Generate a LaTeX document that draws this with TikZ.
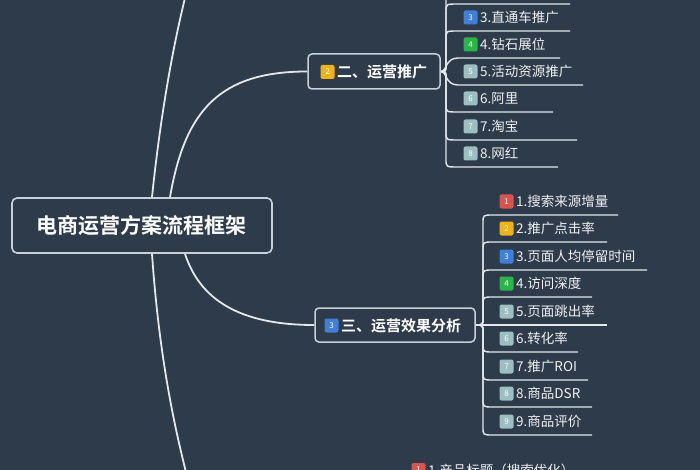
\documentclass[tikz,border=0pt]{standalone}
\usepackage{fontspec}
\setmainfont{Noto Sans CJK SC}[BoldFont={Noto Sans CJK SC Bold}]
\definecolor{bgc}{HTML}{2D3B4B}
\definecolor{linec}{HTML}{E3E8EC}
\definecolor{boxb}{HTML}{C9D1D8}
\definecolor{bred}{HTML}{D9534F}
\definecolor{byel}{HTML}{EFB21A}
\definecolor{bblue}{HTML}{3F7FD6}
\definecolor{bgreen}{HTML}{2BB44A}
\definecolor{bpale}{HTML}{9CBFC1}
\newcommand\fsz[1]{\fontsize{#1}{#1}\selectfont}
\pgfdeclarelayer{back}
\pgfdeclarelayer{lines}
\pgfsetlayers{back,lines,main}
\tikzset{
  rootbox/.style={draw=boxb, line width=1.6pt, rounded corners=5pt, fill=bgc, minimum width=260pt, minimum height=55pt, inner sep=0pt},
  mainbox/.style={draw=boxb, line width=1.5pt, rounded corners=4pt, fill=bgc, inner sep=0pt},
  roottext/.style={text=white, font=\bfseries\fsz{21}, inner sep=0pt},
  maintext/.style={text=white, font=\bfseries\fsz{15}, inner sep=0pt, anchor=west},
  itemtext/.style={text=white!93!bgc, font=\fsz{13.5}, inner sep=0pt, anchor=west},
  badge/.style={fill=#1, rounded corners=2pt, minimum width=14pt, minimum height=14pt, inner sep=0pt, text=white, font=\fsz{8}},
  conn/.style={draw=linec, line width=1.8pt},
  subconn/.style={draw=linec, line width=1.4pt},
}
\begin{document}
\begin{tikzpicture}[x=1pt,y=-1pt]
\useasboundingbox (0,0) rectangle (700,470);
\clip (0,0) rectangle (700,470);
\begin{pgfonlayer}{back}
\fill[bgc] (0,0) rectangle (700,470);
\end{pgfonlayer}

% root
\node[rootbox] (root) at (142,225.5) {};
\node[roottext] (roott) at (141,225.5) {电商运营方案流程框架};

% branch 2
\node[mainbox, minimum width=132pt, minimum height=35pt] (n2) at (374,71.5) {};
\node[badge=byel] (n2b) at (327.5,72) {2};
\node[maintext] (n2t) at (337,72) {二、运营推广};

% branch 3
\node[mainbox, minimum width=160pt, minimum height=34pt] (n3) at (395,325) {};
\node[badge=bblue] (n3b) at (331.5,325.5) {3};
\node[maintext] (n3t) at (341,325.5) {三、运营效果分析};

% free ends of main branches
\coordinate (topend) at (186,-6);
\coordinate (botend) at (187,476);

\begin{pgfonlayer}{lines}
\draw[conn] ([xshift=10pt]root.north) .. controls (160,120) and (172,50) .. (topend);
\draw[conn] ([xshift=28pt]root.north) .. controls (185,110) and (220,71.5) .. (n2.west);
\draw[conn] ([xshift=43pt]root.south) .. controls (200,300) and (240,325) .. (n3.west);
\draw[conn] ([xshift=10pt]root.south) .. controls (158,340) and (170,410) .. (botend);

% children of branch 2
\coordinate (up2) at (446,-6);
\draw[subconn] (n2.east) .. controls (446,71.5) .. (446,63) -- (up2);
\foreach \yy/\ca/\cb/\xe in {4/63/12/570, 31/63/39/570, 112/80/104/553, 140/80/132/577, 167/80/159/558}{
  \coordinate (e2-\yy) at (\xe,\yy);
  \draw[subconn] (n2.east) .. controls (446,71.5) .. (446,\ca) -- (446,\cb) .. controls (446,\yy) .. (458,\yy) -- (e2-\yy);
}
\coordinate (e2-58) at (560,58);
\coordinate (e2-85) at (583,85);
\draw[subconn] (n2.east) .. controls (447,71.5) and (445,58) .. (458,58) -- (e2-58);
\draw[subconn] (n2.east) .. controls (447,71.5) and (445,85) .. (458,85) -- (e2-85);

% children of branch 3
\foreach \yy/\ca/\cb/\xe in {215/317/223/618, 242/317/250/607, 270/317/278/647, 297/317/305/592, 352/333/344/578, 380/333/372/588, 407/333/399/592, 435/333/427/592}{
  \coordinate (e3-\yy) at (\xe,\yy);
  \draw[subconn] (n3.east) .. controls (483,325) .. (483,\ca) -- (483,\cb) .. controls (483,\yy) .. (493,\yy) -- (e3-\yy);
}
\coordinate (e3-325) at (607,325);
\draw[subconn] (n3.east) -- (e3-325);
\end{pgfonlayer}

% items of branch 2
\foreach \yy/\cc/\bn/\lab in {31/bblue/3/3.直通车推广, 58/bgreen/4/4.钻石展位, 85/bpale/5/5.活动资源推广, 112/bpale/6/6.阿里, 140/bpale/7/7.淘宝, 167/bpale/8/8.网红}{
  \node[badge=\cc] (b2-\bn) at (470.5,\yy-13.5) {\bn};
  \node[itemtext] (t2-\bn) at (480,\yy-13.5) {\lab};
}

% items of branch 3
\foreach \yy/\cc/\bn/\lab in {215/bred/1/1.搜索来源增量, 242/byel/2/2.推广点击率, 270/bblue/3/3.页面人均停留时间, 297/bgreen/4/4.访问深度, 325/bpale/5/5.页面跳出率, 352/bpale/6/6.转化率, 380/bpale/7/7.推广ROI, 407/bpale/8/8.商品DSR, 435/bpale/9/9.商品评价}{
  \node[badge=\cc] (b3-\bn) at (506.5,\yy-13.5) {\bn};
  \node[itemtext] (t3-\bn) at (516,\yy-13.5) {\lab};
}

% partially visible item at the bottom
\node[badge=bred] (b4-1) at (418.5,470) {1};
\node[itemtext] (t4-1) at (428,470) {1.产品标题（搜索优化）};
\end{tikzpicture}
\end{document}
